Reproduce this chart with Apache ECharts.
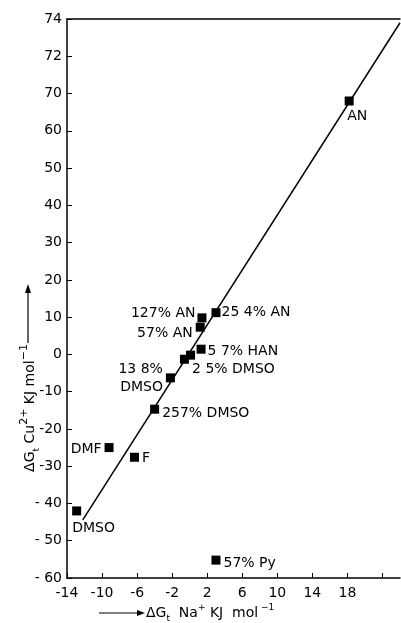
<!DOCTYPE html>
<html>
<head>
<meta charset="utf-8">
<script src="https://cdn.jsdelivr.net/npm/echarts@6/dist/echarts.min.js"></script>
<style>
  html, body { margin: 0; padding: 0; background: #fff; }
  #chart { width: 401px; height: 623px; }
</style>
</head>
<body>
<div id="chart"></div>
<script>
// solvent points: ΔGt Na+ (x) vs ΔGt Cu2+ (y), kJ/mol
const pointNames = ['AN', '127% AN', '25 4% AN', '57% AN', '5 7% HAN', '2 5% DMSO', '',
  '13 8%\nDMSO', '257% DMSO', 'DMF', 'F', 'DMSO', '57% Py']
const pointX = [18.2, 1.4, 3.0, 1.2, 1.3, 0.1, -0.6, -2.2, -4.0, -9.2, -6.3, -12.9, 3.0]
const pointY = [68, 9.8, 11.2, 7.3, 1.4, -0.2, -1.3, -6.3, -14.7, -25, -27.6, -42, -55.2]

// fitted line end points
const lineX = [-12.2, 24]
const lineY = [-44.4, 89]

// tick labels as printed (top two ticks are labelled 72 and 74)
const xTickLabels = ['-14', '-10', '-6', '-2', '2', '6', '10', '14', '18']
const yTickLabels = ['- 60', '- 50', '- 40', '-30', '-20', '-10', '0', '10', '20', '30', '40', '50', '60', '70', '72', '74']

// label placement per point (position, offset, align)
const labelStyle = [
  ['bottom', [8, -3], 'center'],
  ['left', [3, -5], 'right'],
  ['right', [-4, 0], 'left'],
  ['left', [2, 6], 'right'],
  ['right', [-3, 2], 'left'],
  ['right', [-8, 14], 'left'],
  null,
  ['left', [2, 0], 'right'],
  ['right', [-2, 4], 'left'],
  ['left', [2, 2], 'right'],
  ['right', [-2, 1], 'left'],
  ['bottom', [17, -1], 'center'],
  ['right', [-2, 3], 'left']
]

const FONT = 'DejaVu Sans'
const INK = '#000'

const chart = echarts.init(document.getElementById('chart'))

const pointData = pointX.map((x, i) => {
  const s = labelStyle[i]
  return {
    value: [x, pointY[i]],
    name: pointNames[i],
    label: s ? {
      show: true,
      position: s[0],
      offset: s[1],
      align: s[2],
      formatter: '{b}'
    } : { show: false }
  }
})

const axisLineStyle = { color: INK, width: 1.5 }

const option = {
  animation: false,
  backgroundColor: '#fff',
  grid: { left: 67, top: 19, right: 1, bottom: 45 },
  xAxis: [{
    type: 'value',
    min: -14,
    max: 24,
    interval: 4,
    axisLine: { onZero: false, lineStyle: axisLineStyle },
    axisTick: { inside: true, length: 5, lineStyle: { color: INK } },
    axisLabel: {
      color: INK,
      fontFamily: FONT,
      fontSize: 14,
      margin: 8,
      showMaxLabel: false,
      formatter: v => {
        const i = Math.round((v + 14) / 4)
        return (Math.abs(v + 14 - i * 4) < 1e-6 && xTickLabels[i]) || ''
      }
    },
    splitLine: { show: false }
  }, {
    type: 'value',
    position: 'top',
    min: -14,
    max: 24,
    axisLine: { show: true, onZero: false, lineStyle: axisLineStyle },
    axisTick: { show: false },
    axisLabel: { show: false },
    splitLine: { show: false }
  }],
  yAxis: {
    type: 'value',
    min: -60,
    max: 90,
    interval: 10,
    axisLine: { show: true, onZero: false, lineStyle: axisLineStyle },
    axisTick: { show: true, inside: true, length: 5, lineStyle: { color: INK } },
    axisLabel: {
      color: INK,
      fontFamily: FONT,
      fontSize: 14,
      margin: 5,
      formatter: v => yTickLabels[Math.round((v + 60) / 10)] || ''
    },
    splitLine: { show: false }
  },
  series: [{
    type: 'line',
    data: lineX.map((x, i) => [x, lineY[i]]),
    symbol: 'none',
    lineStyle: { color: INK, width: 1.5 },
    z: 2
  }, {
    type: 'scatter',
    data: pointData,
    symbol: 'rect',
    symbolSize: 9,
    itemStyle: { color: INK, opacity: 1 },
    label: {
      color: INK,
      fontFamily: FONT,
      fontSize: 14,
      lineHeight: 18
    },
    z: 3
  }],
  graphic: [
    // x axis title with arrow
    {
      type: 'line',
      shape: { x1: 99, y1: 613, x2: 138, y2: 613 },
      style: { stroke: INK, lineWidth: 1.2 }
    },
    {
      type: 'polygon',
      shape: { points: [[137, 610], [145, 613], [137, 616]] },
      style: { fill: INK }
    },
    {
      type: 'text',
      x: 146,
      y: 613,
      style: {
        text: '{m|ΔG}{s|t}{m|  Na}{p|+}{m| KJ  mol}{p| −1}',
        verticalAlign: 'middle',
        align: 'left',
        fill: INK,
        rich: {
          m: { fontFamily: FONT, fontSize: 14, lineHeight: 20, verticalAlign: 'middle' },
          s: { fontFamily: FONT, fontSize: 9, lineHeight: 20, verticalAlign: 'bottom' },
          p: { fontFamily: FONT, fontSize: 9, lineHeight: 20, verticalAlign: 'top' }
        }
      }
    },
    // y axis title with arrow
    {
      type: 'line',
      shape: { x1: 28, y1: 343, x2: 28, y2: 292 },
      style: { stroke: INK, lineWidth: 1.2 }
    },
    {
      type: 'polygon',
      shape: { points: [[25, 293], [28, 284], [31, 293]] },
      style: { fill: INK }
    },
    {
      type: 'text',
      x: 30,
      y: 408,
      rotation: Math.PI / 2,
      style: {
        text: '{m|ΔG}{s|t}{m| Cu}{p|2+}{m| KJ mol}{p|−1}',
        verticalAlign: 'middle',
        align: 'center',
        fill: INK,
        rich: {
          m: { fontFamily: FONT, fontSize: 14, lineHeight: 22, verticalAlign: 'middle' },
          s: { fontFamily: FONT, fontSize: 9, lineHeight: 22, verticalAlign: 'bottom' },
          p: { fontFamily: FONT, fontSize: 11, lineHeight: 22, verticalAlign: 'top' }
        }
      }
    }
  ]
}

chart.setOption(option)
window.addEventListener('resize', () => chart.resize())
</script>
</body>
</html>
